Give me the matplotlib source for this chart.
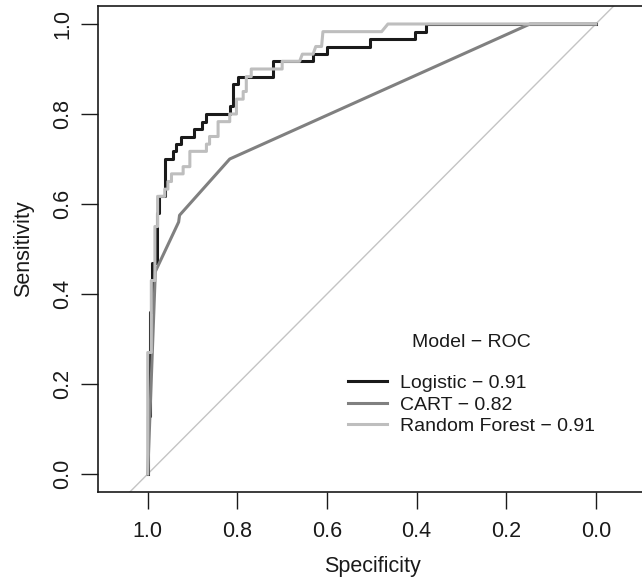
import matplotlib
matplotlib.use("Agg")
import matplotlib.pyplot as plt

plt.rcParams["font.family"] = ["Liberation Sans", "DejaVu Sans"]

# corner points of the ROC staircases (specificity, sensitivity)
logit_spec = [1.0, 1.0, 0.996, 0.996, 0.99, 0.99, 0.979, 0.979, 0.975, 0.975,
              0.962, 0.962, 0.943, 0.943, 0.936, 0.936, 0.925, 0.925, 0.897, 0.897,
              0.88, 0.88, 0.869, 0.869, 0.817, 0.817, 0.81, 0.81, 0.798, 0.798,
              0.72, 0.72, 0.631, 0.631, 0.601, 0.601, 0.504, 0.504, 0.404, 0.404,
              0.378, 0.378, 0.0]
logit_sens = [0.0, 0.13, 0.13, 0.36, 0.36, 0.47, 0.47, 0.58, 0.58, 0.617,
              0.617, 0.70, 0.70, 0.717, 0.717, 0.733, 0.733, 0.75, 0.75, 0.767,
              0.767, 0.783, 0.783, 0.80, 0.80, 0.817, 0.817, 0.867, 0.867, 0.883,
              0.883, 0.917, 0.917, 0.933, 0.933, 0.95, 0.95, 0.967, 0.967, 0.983,
              0.983, 1.0, 1.0]

cart_spec = [1.0, 0.983, 0.931, 0.929, 0.817, 0.147, 0.0]
cart_sens = [0.0, 0.45, 0.56, 0.575, 0.70, 1.0, 1.0]

rf_spec = [1.0, 1.0, 0.992, 0.992, 0.984, 0.984, 0.978, 0.978, 0.962, 0.962,
           0.955, 0.955, 0.947, 0.947, 0.921, 0.921, 0.906, 0.906, 0.869, 0.869,
           0.862, 0.862, 0.843, 0.843, 0.817, 0.817, 0.802, 0.802, 0.787, 0.787,
           0.78, 0.78, 0.769, 0.769, 0.72, 0.70, 0.70, 0.661, 0.655, 0.631,
           0.625, 0.612, 0.609, 0.478, 0.464, 0.0]
rf_sens = [0.0, 0.27, 0.27, 0.43, 0.43, 0.55, 0.55, 0.617, 0.617, 0.633,
           0.633, 0.65, 0.65, 0.667, 0.667, 0.683, 0.683, 0.717, 0.717, 0.733,
           0.733, 0.75, 0.75, 0.783, 0.783, 0.80, 0.80, 0.833, 0.833, 0.85,
           0.85, 0.883, 0.883, 0.90, 0.90, 0.90, 0.917, 0.917, 0.933, 0.933,
           0.95, 0.95, 0.983, 0.983, 1.0, 1.0]

labels = ["Logistic \u2212 0.91", "CART \u2212 0.82", "Random Forest \u2212 0.91"]
colors = ["#1a1a1a", "#808080", "#bebebe"]
ticks = [0.0, 0.2, 0.4, 0.6, 0.8, 1.0]

fig = plt.figure(figsize=(6.42, 5.82), dpi=100)
ax = fig.add_axes([98 / 642, 90 / 582, 548 / 642, 486 / 582])

ax.axline((1, 0), (0, 1), color="#c4c4c4", lw=1.0, zorder=1)
ax.plot(logit_spec, logit_sens, color=colors[0], lw=2.2, label=labels[0], zorder=2)
ax.plot(cart_spec, cart_sens, color=colors[1], lw=2.2, label=labels[1], zorder=2)
ax.plot(rf_spec, rf_sens, color=colors[2], lw=2.2, label=labels[2], zorder=3)

ax.set_xlim(1.111, -0.112)
ax.set_ylim(-0.04, 1.04)
ax.set_xticks(ticks)
ax.set_yticks(ticks)
ax.set_xticklabels(["%.1f" % t for t in ticks])
ax.set_yticklabels(["%.1f" % t for t in ticks], rotation=90, va="center")
ax.tick_params(length=12, width=1.0, labelsize=15.5, colors="#1a1a1a")
ax.tick_params(axis="x", pad=9)
ax.tick_params(axis="y", pad=6)
for s in ax.spines.values():
    s.set_linewidth(1.2)
    s.set_color("#1a1a1a")

ax.set_xlabel("Specificity", fontsize=15.5, color="#1a1a1a", labelpad=10)
ax.set_ylabel("Sensitivity", fontsize=15.5, color="#1a1a1a", labelpad=13)

leg = ax.legend(title="Model \u2212 ROC", frameon=False, fontsize=14,
                title_fontsize=14, loc="upper left",
                bbox_to_anchor=(348 / 642, 1 - 334 / 582),
                bbox_transform=fig.transFigure, borderpad=0, borderaxespad=0,
                handlelength=2.0, handletextpad=0.65, labelspacing=0.2)
leg._legend_box.sep = 17
for t in leg.get_texts():
    t.set_color("#1a1a1a")
leg.get_title().set_color("#1a1a1a")

fig.savefig("out.png", dpi=100)
